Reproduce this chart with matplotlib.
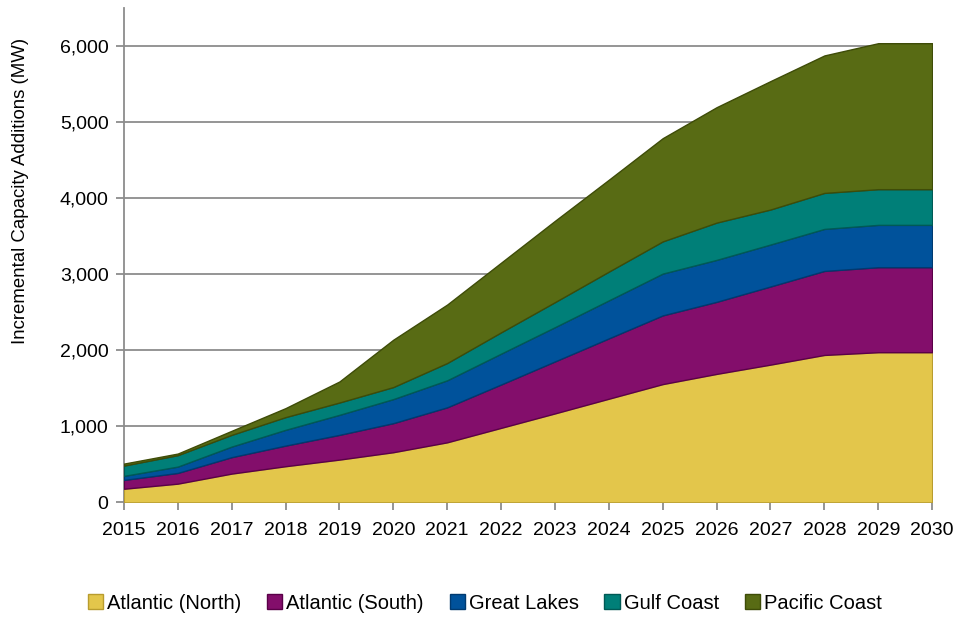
import numpy as np
import matplotlib
matplotlib.use('Agg')
import matplotlib.pyplot as plt
from matplotlib.patches import Patch
from matplotlib.ticker import FuncFormatter

plt.rcParams['font.family'] = ['Liberation Sans', 'DejaVu Sans']

# capacity additions (MW)
years = list(range(2015, 2031))
atlantic_north = [180, 247, 379, 476, 563, 660, 790, 980, 1170, 1363, 1555, 1689, 1811, 1938, 1974, 1974]
atlantic_south = [116, 141, 216, 271, 325, 382, 460, 570, 683, 793, 903, 947, 1027, 1104, 1117, 1117]
great_lakes = [53, 83, 139, 207, 263, 316, 355, 405, 450, 499, 549, 551, 551, 552, 556, 556]
gulf_coast = [135, 150, 154, 167, 162, 158, 227, 280, 329, 378, 423, 490, 460, 473, 469, 469]
pacific_coast = [26, 21, 53, 118, 276, 622, 768, 915, 1068, 1207, 1356, 1516, 1687, 1806, 1918, 1918]

names = ['Atlantic (North)', 'Atlantic (South)', 'Great Lakes', 'Gulf Coast', 'Pacific Coast']
colors = ['#E3C64B', '#830E6B', '#00529B', '#007F78', '#586B14']
edges = ['#B89C2E', '#5A0048', '#003A70', '#005A55', '#3E4C08']

fig = plt.figure(figsize=(9.6, 6.18), dpi=100)
ax = fig.add_axes([0.129, 0.187, 0.842, 0.8005])

series = [atlantic_north, atlantic_south, great_lakes, gulf_coast, pacific_coast]
polys = ax.stackplot(years, *series, colors=colors, zorder=3)
for p, ec in zip(polys, edges):
    p.set_edgecolor(ec)
    p.set_linewidth(1.0)

ax.set_xlim(2015, 2030)
ax.set_ylim(0, 6500)
ax.set_yticks(np.arange(0, 6001, 1000))
ax.set_xticks(years)
ax.yaxis.set_major_formatter(FuncFormatter(lambda v, p: '{:,.0f}'.format(v)))
ax.grid(axis='y', color='#8C8C8C', linewidth=1.3, zorder=0)
ax.set_axisbelow(True)

for s in ['top', 'right']:
    ax.spines[s].set_visible(False)
for s in ['left', 'bottom']:
    ax.spines[s].set_color('#8C8C8C')
    ax.spines[s].set_linewidth(1.3)
ax.tick_params(axis='both', colors='#8C8C8C', width=1.3, length=6, direction='out')
ax.tick_params(axis='both', labelcolor='black', labelsize=14)
ax.tick_params(axis='x', pad=8)
ax.tick_params(axis='y', pad=5)

fig.text(21 / 960, 1 - 191 / 618, 'Incremental Capacity Additions (MW)', rotation=90,
         ha='center', va='center', fontsize=13.4)

handles = [Patch(facecolor=c, edgecolor=e, linewidth=1.0) for c, e in zip(colors, edges)]
fig.legend(handles, names, loc='center', bbox_to_anchor=(0.505, 0.024), ncol=5,
           frameon=False, fontsize=14.5, handlelength=0.75, handleheight=0.75,
           handletextpad=0.2, columnspacing=1.28)

fig.savefig('out.png', dpi=100)
